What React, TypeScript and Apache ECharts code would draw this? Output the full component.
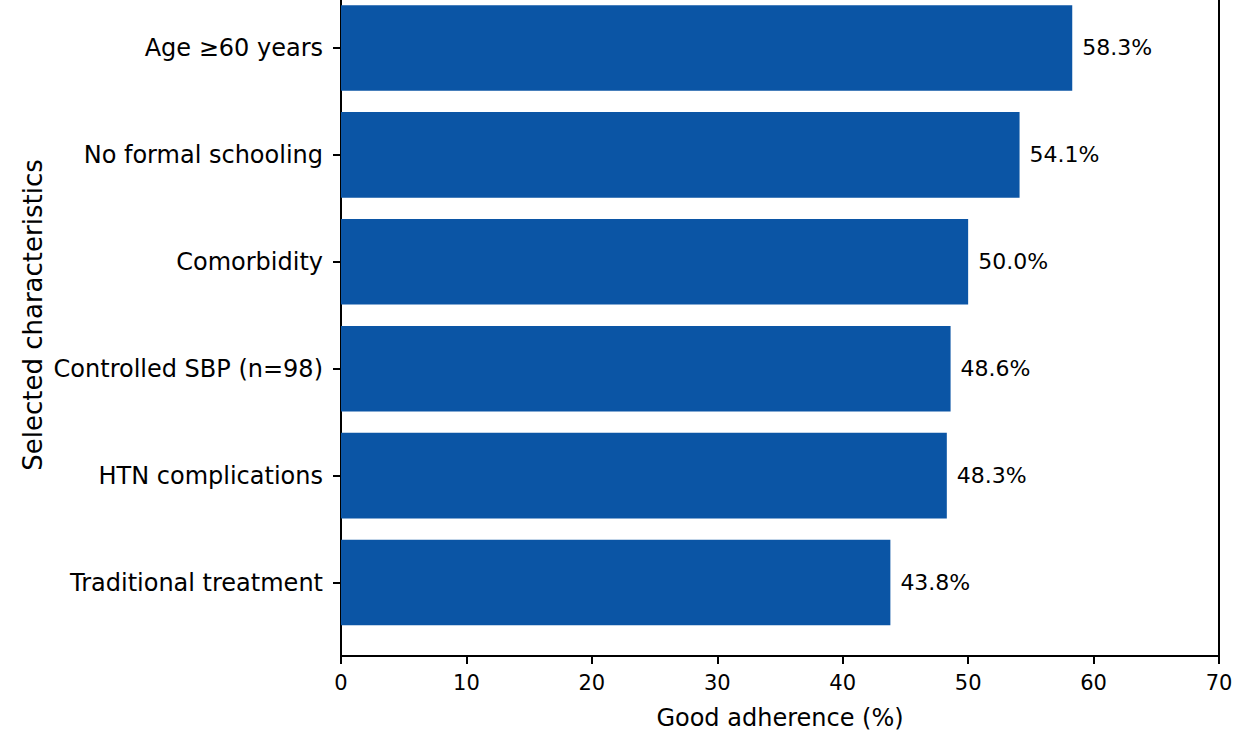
import React, { useEffect, useRef } from "react";
import * as echarts from "echarts";

const categories = [
  "Age ≥60 years",
  "No formal schooling",
  "Comorbidity",
  "Controlled SBP (n=98)",
  "HTN complications",
  "Traditional treatment",
];
const values = [58.3, 54.1, 50.0, 48.6, 48.3, 43.8];
const xTicks = [0, 10, 20, 30, 40, 50, 60, 70];

const FONT = "DejaVu Sans";
const BAR_COLOR = "#0b55a5";
const INK = "#000000";

// the chart canvas starts above the viewport so the top spine is cropped off, as in the reference
const SHIFT = 30;
const W = 1252;
const H = 754 + SHIFT;

export default function App() {
  const ref = useRef<HTMLDivElement>(null);
  useEffect(() => {
    if (!ref.current) return;
    const chart = echarts.init(ref.current, undefined, { renderer: "svg" });
    const left = 341;
    const right = W - 1219;
    chart.setOption({
      animation: false,
      backgroundColor: "#ffffff",
      textStyle: { fontFamily: FONT, color: INK },
      grid: [
        { left, right, top: SHIFT - 5.5, bottom: 754 - 636, containLabel: false, outerBoundsMode: "none" },
        { left, right, top: SHIFT - 26, bottom: 754 - 656, containLabel: false, outerBoundsMode: "none" },
      ],
      xAxis: [
        { gridIndex: 0, type: "value", min: xTicks[0], max: xTicks[xTicks.length - 1], show: false },
        {
          gridIndex: 1,
          type: "value",
          min: xTicks[0],
          max: xTicks[xTicks.length - 1],
          interval: xTicks[1] - xTicks[0],
          position: "bottom",
          axisLine: { show: true, onZero: false, lineStyle: { color: INK, width: 2 } },
          axisTick: { show: true, inside: false, length: 8, lineStyle: { color: INK, width: 2 } },
          axisLabel: { fontFamily: FONT, fontSize: 21, color: INK, margin: 16 },
          splitLine: { show: false },
          name: "Good adherence (%)",
          nameLocation: "middle",
          nameGap: 50,
          nameTextStyle: { fontFamily: FONT, fontSize: 24, color: INK },
        },
      ],
      yAxis: [
        {
          gridIndex: 0,
          type: "category",
          inverse: true,
          data: categories,
          axisLine: { show: false, onZero: false },
          axisTick: { show: true, alignWithLabel: true, length: 8, lineStyle: { color: INK, width: 2 } },
          axisLabel: { fontFamily: FONT, fontSize: 24, color: INK, margin: 18 },
          splitLine: { show: false },
        },
        {
          gridIndex: 1,
          type: "value",
          min: 0,
          max: 1,
          position: "left",
          axisLine: { show: true, onZero: false, lineStyle: { color: INK, width: 2 } },
          axisTick: { show: false },
          axisLabel: { show: false },
          splitLine: { show: false },
          name: "Selected characteristics",
          nameLocation: "middle",
          nameRotate: 90,
          nameGap: 295,
          nameTextStyle: { fontFamily: FONT, fontSize: 26, color: INK },
        },
        {
          gridIndex: 1,
          type: "value",
          min: 0,
          max: 1,
          position: "right",
          axisLine: { show: true, onZero: false, lineStyle: { color: INK, width: 2 } },
          axisTick: { show: false },
          axisLabel: { show: false },
          splitLine: { show: false },
        },
      ],
      series: [
        {
          type: "bar",
          xAxisIndex: 0,
          yAxisIndex: 0,
          data: values,
          barWidth: "80%",
          itemStyle: { color: BAR_COLOR },
          label: {
            show: true,
            position: "right",
            distance: 10,
            fontFamily: FONT,
            fontSize: 22,
            color: INK,
            formatter: (p: any) => `${Number(p.value).toFixed(1)}%`,
          },
        },
      ],
    });
    return () => chart.dispose();
  }, []);
  return (
    <div
      ref={ref}
      style={{ position: "absolute", left: 0, top: -SHIFT, width: W, height: H }}
    />
  );
}
